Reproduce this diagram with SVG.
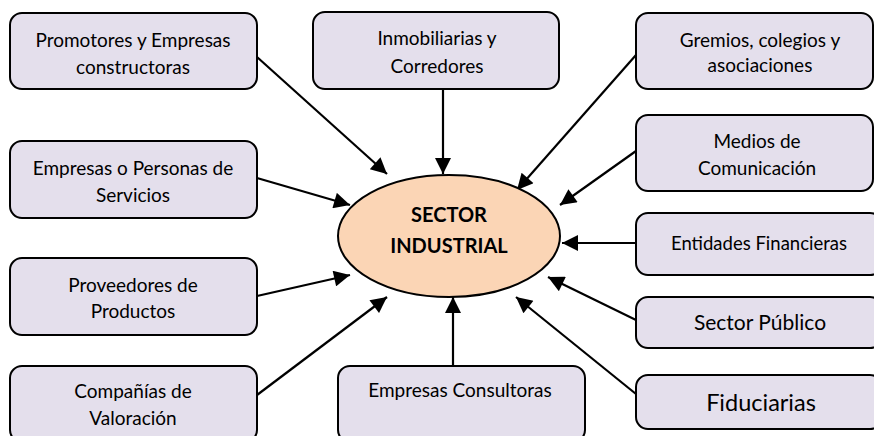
<svg xmlns="http://www.w3.org/2000/svg" width="874" height="436" viewBox="0 0 874 436">
<style>
.box{fill:#E4DFEC;stroke:#000;stroke-width:2}
.t{font-family:Lato,"Open Sans","Liberation Sans",sans-serif;font-size:19px;fill:#000;text-anchor:middle}
.c{stroke:#000;stroke-width:2.2;fill:none;marker-end:url(#ah)}
.b{font-family:Lato,"Liberation Sans",sans-serif;font-weight:bold;font-size:20px;text-anchor:middle;fill:#000}
</style>
<defs>
<marker id="ah" viewBox="0 0 10 10" refX="10" refY="5" markerUnits="userSpaceOnUse" markerWidth="18" markerHeight="16" orient="auto">
<path d="M0,0 L10,5 L0,10 z" fill="#000"/>
</marker>
</defs>
<g id="connectors">
<line class="c" x1="257" y1="57" x2="387" y2="174"/>
<line class="c" x1="443" y1="89" x2="443" y2="174"/>
<line class="c" x1="636" y1="55" x2="517" y2="190"/>
<line class="c" x1="636" y1="151" x2="560" y2="205"/>
<line class="c" x1="636" y1="243" x2="562" y2="243"/>
<line class="c" x1="636" y1="320" x2="548" y2="277"/>
<line class="c" x1="636" y1="394" x2="516" y2="297"/>
<line class="c" x1="453" y1="366" x2="453" y2="297"/>
<line class="c" x1="257" y1="395" x2="387" y2="297"/>
<line class="c" x1="257" y1="296" x2="350" y2="275"/>
<line class="c" x1="257" y1="178" x2="350" y2="205"/>
</g>
<g id="center">
<ellipse cx="449" cy="236" rx="111" ry="61" fill="#FBD5B5" stroke="#000" stroke-width="2"/>
<text class="b" x="449" y="222">SECTOR</text>
<text class="b" x="449" y="253">INDUSTRIAL</text>
</g>
<g id="promotores">
<rect class="box" x="10" y="13" width="247" height="76" rx="12"/>
<text class="t" x="133" y="47">Promotores y Empresas</text>
<text class="t" x="133" y="74">constructoras</text>
</g>
<g id="servicios">
<rect class="box" x="10" y="141" width="247" height="77" rx="12"/>
<text class="t" x="133" y="175">Empresas o Personas de</text>
<text class="t" x="133" y="202">Servicios</text>
</g>
<g id="proveedores">
<rect class="box" x="10" y="258" width="247" height="77" rx="12"/>
<text class="t" x="133" y="292">Proveedores de</text>
<text class="t" x="133" y="318">Productos</text>
</g>
<g id="companias">
<rect class="box" x="10" y="366" width="247" height="76" rx="12"/>
<text class="t" x="133" y="398">Compañías de</text>
<text class="t" x="133" y="425">Valoración</text>
</g>
<g id="inmobiliarias">
<rect class="box" x="313" y="12" width="246" height="77" rx="12"/>
<text class="t" x="437" y="45">Inmobiliarias y</text>
<text class="t" x="437" y="73">Corredores</text>
</g>
<g id="consultoras">
<rect class="box" x="338" y="366" width="247" height="76" rx="12"/>
<text class="t" x="460" y="397">Empresas Consultoras</text>
</g>
<g id="gremios">
<rect class="box" x="636" y="13" width="237" height="76" rx="12"/>
<text class="t" x="760" y="47">Gremios, colegios y</text>
<text class="t" x="760" y="72">asociaciones</text>
</g>
<g id="medios">
<rect class="box" x="636" y="115" width="237" height="76" rx="12"/>
<text class="t" x="757" y="148">Medios de</text>
<text class="t" x="757" y="175">Comunicación</text>
</g>
<g id="entidades">
<rect class="box" x="636" y="213" width="246" height="62" rx="12"/>
<text class="t" x="759" y="250" style="font-size:18.5px">Entidades Financieras</text>
</g>
<g id="publico">
<rect class="box" x="636" y="297" width="246" height="51" rx="12"/>
<text class="t" x="760" y="330" style="font-size:21px">Sector Público</text>
</g>
<g id="fiduciarias">
<rect class="box" x="636" y="375" width="246" height="54" rx="12"/>
<text class="t" x="761" y="411" style="font-size:23.5px">Fiduciarias</text>
</g>
</svg>
